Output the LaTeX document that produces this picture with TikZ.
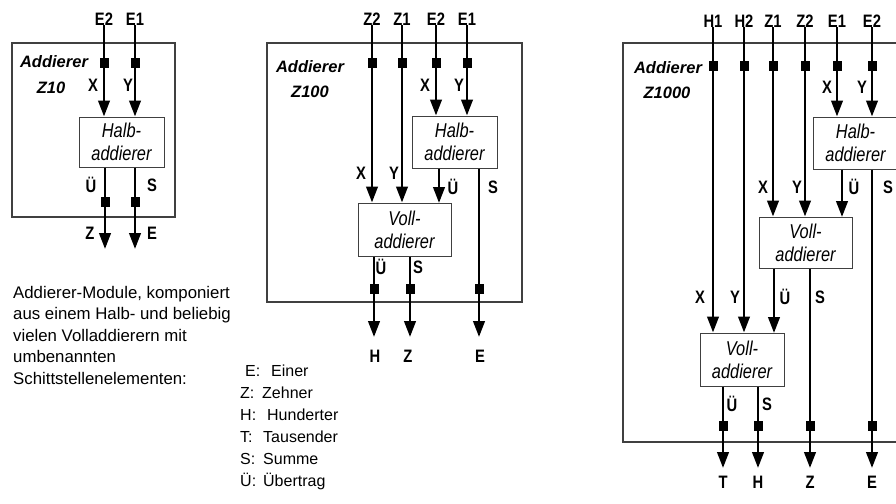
\documentclass[tikz,border=0pt]{standalone}
\usepackage{fontspec}
\setmainfont{Liberation Sans}
\newfontfamily\narrowsans[FakeStretch=0.82]{Liberation Sans}
\usetikzlibrary{arrows.meta}
\colorlet{frame}{black!75}
\tikzset{
  lbl/.style={inner sep=0pt, font=\fontsize{18}{20}\selectfont\narrowsans\bfseries},
  ttl/.style={inner sep=0pt, align=center, font=\fontsize{16.5}{24}\selectfont\bfseries\itshape},
  unit/.style={draw=frame, line width=1pt, fill=white, inner sep=0pt, align=center, font=\fontsize{20}{23}\selectfont\narrowsans\itshape},
  outer/.style={draw=frame, line width=1.1pt},
  sq/.style={fill=black, minimum width=9pt, minimum height=10pt, inner sep=0pt},
  arr/.style={line width=2.6pt, -{Triangle[length=16pt, width=11.5pt]}},
  txt/.style={inner sep=0pt, anchor=base west, font=\fontsize{16.8}{18}\selectfont},
  leg/.style={inner sep=0pt, anchor=base west, font=\fontsize{16}{18}\selectfont},
}
\begin{document}
\begin{tikzpicture}[x=1pt, y=-1pt]
\useasboundingbox (0,0) rectangle (896,503);
\clip (0,0) rectangle (896,503);

% ================= Addierer Z10 =================
\draw[outer] (12,43) rectangle (175,217);
\node[ttl] (t1) at (54,62) {Addierer};
\node[ttl] (t1b) at (51,88) {Z10};
\node[lbl] (i1a) at (104,19) {E2};
\node[lbl] (i1b) at (135,19) {E1};
\node[unit, minimum width=85pt, minimum height=50pt] (h1) at (121.5,142) {Halb-\\addierer};
\draw[arr] (i1a.south) -- (i1a.south |- h1.north);
\draw[arr] (i1b.south) -- (i1b.south |- h1.north);
\node[sq] (q1a) at (104,63) {};
\node[sq] (q1b) at (135,63) {};
\node[lbl] at (93,85) {X};
\node[lbl] at (128,85) {Y};
\coordinate (o1a) at (105,249);
\coordinate (o1b) at (135,249);
\draw[arr] (h1.south -| o1a) -- (o1a);
\draw[arr] (h1.south -| o1b) -- (o1b);
\node[sq] (q1c) at (105,202) {};
\node[sq] (q1d) at (135,202) {};
\node[lbl] at (91,185) {Ü};
\node[lbl] at (152,185) {S};
\node[lbl] (z1) at (90,233) {Z};
\node[lbl] (e1) at (152,233) {E};

\node[txt] (p1) at (13,298) {Addierer-Module, komponiert};
\node[txt] (p2) at (13,319.5) {aus einem Halb- und beliebig};
\node[txt] (p3) at (13,341) {vielen Volladdierern mit};
\node[txt] (p4) at (13,362.5) {umbenannten};
\node[txt] (p5) at (13,384) {Schittstellenelementen:};

% ================= Addierer Z100 =================
\draw[outer] (267,43) rectangle (522,302);
\node[ttl] (t2) at (310,67) {Addierer};
\node[ttl] (t2b) at (310,92) {Z100};
\node[lbl] (i2a) at (372,19) {Z2};
\node[lbl] (i2b) at (402,19) {Z1};
\node[lbl] (i2c) at (436,19) {E2};
\node[lbl] (i2d) at (467,19) {E1};
\node[unit, minimum width=85pt, minimum height=52pt] (h2) at (454.5,142) {Halb-\\addierer};
\node[unit, minimum width=93pt, minimum height=53pt] (v2) at (404.5,229.5) {Voll-\\addierer};
\draw[arr] (i2a.south) -- (i2a.south |- v2.north);
\draw[arr] (i2b.south) -- (i2b.south |- v2.north);
\draw[arr] (i2c.south) -- (i2c.south |- h2.north);
\draw[arr] (i2d.south) -- (i2d.south |- h2.north);
\node[sq] at (372,63) {};
\node[sq] at (402,63) {};
\node[sq] at (436,63) {};
\node[sq] at (467,63) {};
\node[lbl] at (425,85) {X};
\node[lbl] at (459,85) {Y};
\node[lbl] at (361,173) {X};
\node[lbl] at (394,173) {Y};
\coordinate (c2u) at (439,203);
\draw[arr] (h2.south -| c2u) -- (c2u);
\node[lbl] at (453,187) {Ü};
\node[lbl] at (493,187) {S};
\coordinate (o2a) at (374,337);
\coordinate (o2b) at (410,337);
\coordinate (o2c) at (479,337);
\draw[arr] (v2.south -| o2a) -- (o2a);
\draw[arr] (v2.south -| o2b) -- (o2b);
\draw[arr] (h2.south -| o2c) -- (o2c);
\node[sq] at (374,289) {};
\node[sq] at (410,289) {};
\node[sq] at (479,289) {};
\node[lbl] at (381,267) {Ü};
\node[lbl] at (418,267) {S};
\node[lbl] (h2o) at (375,356) {H};
\node[lbl] (z2o) at (408,356) {Z};
\node[lbl] (e2o) at (480,356) {E};

% legend
\node[leg] (l1) at (245,376) {\makebox[26pt][l]{E:}Einer};
\node[leg] (l2) at (240,398) {\makebox[22pt][l]{Z:}Zehner};
\node[leg] (l3) at (240,420) {\makebox[27pt][l]{H:}Hunderter};
\node[leg] (l4) at (240,442) {\makebox[23pt][l]{T:}Tausender};
\node[leg] (l5) at (240,464) {\makebox[23pt][l]{S:}Summe};
\node[leg] (l6) at (240,486) {\makebox[23pt][l]{Ü:}Übertrag};

% ================= Addierer Z1000 =================
\draw[outer] (623,43) rectangle (920,442);
\node[ttl] (t3) at (668,68) {Addierer};
\node[ttl] (t3b) at (667,93) {Z1000};
\node[lbl] (i3a) at (713,21) {H1};
\node[lbl] (i3b) at (744,21) {H2};
\node[lbl] (i3c) at (773,21) {Z1};
\node[lbl] (i3d) at (805,21) {Z2};
\node[lbl] (i3e) at (837,21) {E1};
\node[lbl] (i3f) at (872,21) {E2};
\node[unit, minimum width=85pt, minimum height=52pt] (h3) at (855.5,143) {Halb-\\addierer};
\node[unit, minimum width=93pt, minimum height=51pt] (v3a) at (805.5,242.5) {Voll-\\addierer};
\node[unit, minimum width=84pt, minimum height=53pt] (v3b) at (742,359.5) {Voll-\\addierer};
\draw[arr] (i3a.south) -- (i3a.south |- v3b.north);
\draw[arr] (i3b.south) -- (i3b.south |- v3b.north);
\draw[arr] (i3c.south) -- (i3c.south |- v3a.north);
\draw[arr] (i3d.south) -- (i3d.south |- v3a.north);
\draw[arr] (i3e.south) -- (i3e.south |- h3.north);
\draw[arr] (i3f.south) -- (i3f.south |- h3.north);
\node[sq] at (713,66) {};
\node[sq] at (744,66) {};
\node[sq] at (773,66) {};
\node[sq] at (805,66) {};
\node[sq] at (837,66) {};
\node[sq] at (872,66) {};
\node[lbl] at (827,87) {X};
\node[lbl] at (862,87) {Y};
\node[lbl] at (763,187) {X};
\node[lbl] at (797,187) {Y};
\node[lbl] at (700,297) {X};
\node[lbl] at (735,297) {Y};
\coordinate (c3a) at (842,217);
\draw[arr] (h3.south -| c3a) -- (c3a);
\node[lbl] at (854,187) {Ü};
\node[lbl] at (888,187) {S};
\coordinate (c3b) at (774,333);
\draw[arr] (v3a.south -| c3b) -- (c3b);
\node[lbl] at (785,297) {Ü};
\node[lbl] at (820,297) {S};
\coordinate (o3a) at (723,468);
\coordinate (o3b) at (758,468);
\coordinate (o3c) at (810,468);
\coordinate (o3d) at (872,468);
\draw[arr] (v3b.south -| o3a) -- (o3a);
\draw[arr] (v3b.south -| o3b) -- (o3b);
\draw[arr] (v3a.south -| o3c) -- (o3c);
\draw[arr] (h3.south -| o3d) -- (o3d);
\node[sq] at (723,426) {};
\node[sq] at (758,426) {};
\node[sq] at (810,426) {};
\node[sq] at (872,426) {};
\node[lbl] at (732,404) {Ü};
\node[lbl] at (767,404) {S};
\node[lbl] (t3o) at (723,482) {T};
\node[lbl] (h3o) at (758,482) {H};
\node[lbl] (z3o) at (810,482) {Z};
\node[lbl] (e3o) at (872,482) {E};
\end{tikzpicture}
\end{document}
